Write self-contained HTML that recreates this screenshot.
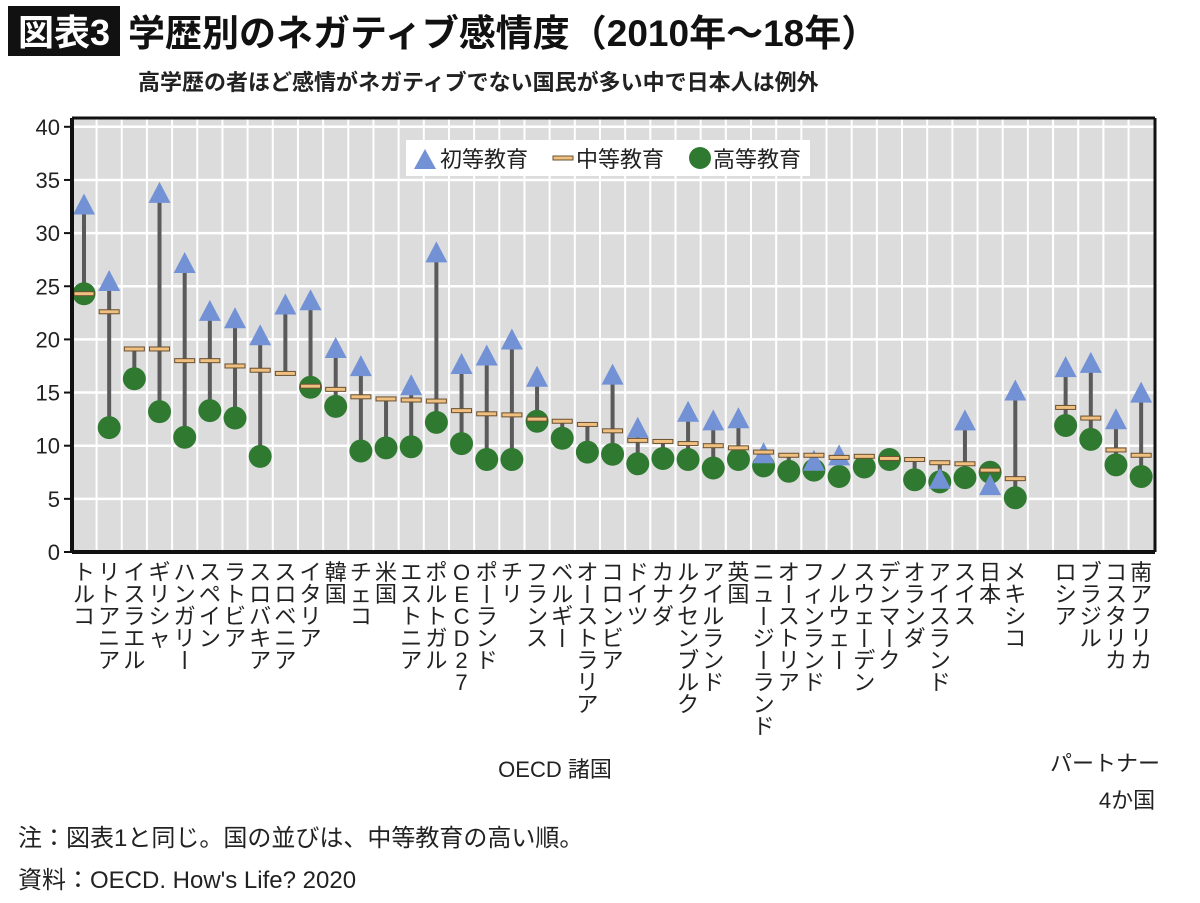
<!DOCTYPE html>
<html><head><meta charset="utf-8"><style>
body{margin:0;width:1200px;height:903px;background:#fff;overflow:hidden;font-family:"Liberation Sans","Noto Sans CJK JP",sans-serif;}
</style></head><body>
<svg id="s" width="1200" height="903" xmlns="http://www.w3.org/2000/svg" style="position:absolute;left:0;top:0;font-family:'Liberation Sans','Noto Sans CJK JP',sans-serif">
<rect x="8" y="6" width="112" height="50" fill="#111"/>
<text x="64" y="45" fill="#fff" font-size="36" font-weight="bold" text-anchor="middle">図表3</text>
<text x="128" y="46" fill="#111" font-size="37" font-weight="bold">学歴別のネガティブ感情度（2010年〜18年）</text>
<text x="138" y="90" fill="#222" font-size="22" font-weight="bold">高学歴の者ほど感情がネガティブでない国民が多い中で日本人は例外</text>
<g id="plot"></g>
<text x="555" y="777" font-size="22" fill="#222" text-anchor="middle">OECD 諸国</text>
<text x="1105" y="771" font-size="22" fill="#222" text-anchor="middle">パートナー</text>
<text x="1127" y="808" font-size="22" fill="#222" text-anchor="middle">4か国</text>
<text x="18" y="846" font-size="24" fill="#222">注：図表1と同じ。国の並びは、中等教育の高い順。</text>
<text x="18" y="888" font-size="24" fill="#222">資料：OECD. How's Life? 2020</text>
</svg>
<script>
const L=72,R=1155,T=118,Y0=552,U=10.63;
const y=v=>Y0-v*U;
const d=[
["トルコ",32.5,24.3,24.3],["リトアニア",25.3,22.6,11.7],["イスラエル",null,19.1,16.3],["ギリシャ",33.6,19.1,13.2],
["ハンガリー",27,18,10.8],["スペイン",22.5,18,13.3],["ラトビア",21.8,17.5,12.6],["スロバキア",20.2,17.1,9],
["スロベニア",23.1,16.8,null],["イタリア",23.5,15.6,15.5],["韓国",19,15.3,13.7],["チェコ",17.3,14.6,9.5],
["米国",null,14.4,9.8],["エストニア",15.5,14.3,9.9],["ポルトガル",28,14.2,12.2],["OECD27",17.5,13.3,10.2],
["ポーランド",18.3,13,8.7],["チリ",19.8,12.9,8.7],["フランス",16.3,12.5,12.3],["ベルギー",null,12.3,10.7],
["オーストラリア",null,12,9.4],["コロンビア",16.5,11.4,9.2],["ドイツ",11.5,10.5,8.3],["カナダ",null,10.4,8.8],
["ルクセンブルク",13,10.2,8.7],["アイルランド",12.2,10,7.9],["英国",12.4,9.8,8.7],["ニュージーランド",9.1,9.4,8.1],
["オーストリア",null,9.1,7.6],["フィンランド",8.4,9.1,7.7],["ノルウェー",8.9,8.9,7.1],["スウェーデン",null,9,8],
["デンマーク",null,8.8,8.7],["オランダ",null,8.7,6.8],["アイスランド",6.7,8.4,6.6],["スイス",12.2,8.3,7],
["日本",6.1,7.7,7.5],["メキシコ",15,6.9,5.1],null,["ロシア",17.2,13.6,11.9],["ブラジル",17.6,12.6,10.6],
["コスタリカ",12.3,9.6,8.2],["南アフリカ",14.8,9.1,7.1]];
const sp=25.17,x0=84;
let h=`<rect x="${L}" y="${T}" width="${R-L}" height="${Y0-T}" fill="#dcdcdc"/>`;
for(let v=0;v<=40;v+=5){h+=`<line x1="${L}" x2="${R}" y1="${y(v)}" y2="${y(v)}" stroke="#fff" stroke-width="2.5"/>`;
h+=`<line x1="${L-8}" x2="${L}" y1="${y(v)}" y2="${y(v)}" stroke="#111" stroke-width="2"/>`;
h+=`<text x="${L-12}" y="${y(v)+8}" font-size="22" text-anchor="end" fill="#222">${v}</text>`;}
for(let k=0;k<43;k++){const gx=x0+sp/2+k*sp;if(gx<R-2)h+=`<line x1="${gx}" x2="${gx}" y1="${T}" y2="${Y0}" stroke="#fff" stroke-width="2"/>`;}
h+=`<rect x="406" y="140" width="404" height="36" fill="#fff"/>
<polygon points="414,169 436,169 425,149" fill="#7392d6"/><text x="440" y="167" font-size="22" fill="#222">初等教育</text>
<rect x="553" y="156" width="20" height="4" fill="#f0c080" stroke="#6a5030" stroke-width="1"/><text x="576" y="167" font-size="22" fill="#222">中等教育</text>
<circle cx="700" cy="158" r="11" fill="#2f7a30"/><text x="713" y="167" font-size="22" fill="#222">高等教育</text>`;
let stems="",circ="",tri="",bar="",lab="";
d.forEach((c,i)=>{if(!c)return;const x=x0+i*sp;const vals=[c[1],c[2],c[3]].filter(v=>v!=null);
const mx=Math.max(...vals),mn=Math.min(...vals);
stems+=`<line x1="${x}" x2="${x}" y1="${y(mx)}" y2="${y(mn)}" stroke="#5a5a5a" stroke-width="4"/>`;
if(c[3]!=null)circ+=`<circle cx="${x}" cy="${y(c[3])}" r="11.5" fill="#2f7a30"/>`;
if(c[1]!=null){const ty=y(c[1]);tri+=`<polygon points="${x-11},${ty+8} ${x+11},${ty+8} ${x},${ty-13}" fill="#7392d6"/>`;}
bar+=`<rect x="${x-10}" y="${y(c[2])-2}" width="20" height="4" fill="#f0c080" stroke="#6a5030" stroke-width="1"/>`;
[...c[0]].forEach((ch,j)=>{let yy=580+j*22;let t=ch;
if(ch==="ー"){lab+=`<line x1="${x}" x2="${x}" y1="${yy-17}" y2="${yy+1}" stroke="#222" stroke-width="2"/>`;return;}
lab+=`<text x="${x}" y="${yy}" font-size="22" fill="#222" text-anchor="middle">${t}</text>`;});
});
h+=stems+circ+tri+bar;
h+=`<line x1="${L}" x2="${L}" y1="${T}" y2="${Y0}" stroke="#111" stroke-width="4"/><line x1="${L}" x2="${R}" y1="${Y0}" y2="${Y0}" stroke="#111" stroke-width="4"/><line x1="${R}" x2="${R}" y1="${T}" y2="${Y0}" stroke="#111" stroke-width="3"/><line x1="${L}" x2="${R}" y1="${T}" y2="${T}" stroke="#111" stroke-width="3"/>`;
h+=lab;
document.getElementById("plot").innerHTML=h;
</script>
</body></html>
